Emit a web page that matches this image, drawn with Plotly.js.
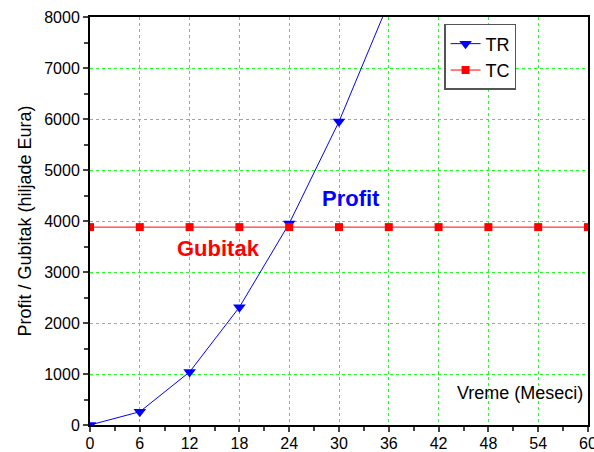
<!DOCTYPE html>
<html><head><meta charset="utf-8">
<script src="https://cdn.plot.ly/plotly-3.0.1.min.js"></script>
<style>body{margin:0;background:#fff}#chart{width:594px;height:452px}</style>
</head><body><div id="chart"></div>
<script>
const months = [0, 6, 12, 18, 24, 30, 36];
const trValues = [0, 260, 1040, 2310, 3950, 5950, 8290];
const tcMonths = [0, 6, 12, 18, 24, 30, 36, 42, 48, 54, 60];
const tcValues = [3880, 3880, 3880, 3880, 3880, 3880, 3880, 3880, 3880, 3880, 3880];
const xTicks = [0, 6, 12, 18, 24, 30, 36, 42, 48, 54, 60];
const yTicks = [0, 1000, 2000, 3000, 4000, 5000, 6000, 7000, 8000];

const font = 'Liberation Sans, Arial, sans-serif';
const traces = [
  {x: months, y: trValues, name: 'TR', mode: 'lines+markers', type: 'scatter',
   line: {color: '#0000ff', width: 1}, marker: {symbol: 'triangle-down', size: 11, color: '#0000ff'}},
  {x: tcMonths, y: tcValues, name: 'TC', mode: 'lines+markers', type: 'scatter',
   line: {color: '#ff0000', width: 1}, marker: {symbol: 'square', size: 8, color: '#ff0000'}}
];
const layout = {
  width: 594, height: 452,
  margin: {l: 90, r: 6, t: 17, b: 27},
  paper_bgcolor: '#fff', plot_bgcolor: '#fff',
  font: {family: font, color: '#000', size: 15},
  showlegend: true,
  legend: {x: 0.711, y: 0.983, xanchor: 'left', yanchor: 'top', bgcolor: '#fff',
    bordercolor: '#555', borderwidth: 1.5, font: {size: 18, family: font},
    tracegroupgap: 0},
  xaxis: {range: [0, 60], tickvals: xTicks, ticks: 'outside', ticklen: 5, tickwidth: 1.5,
    showline: true, linewidth: 2, linecolor: '#000', mirror: true, ticklabeloverflow: 'allow',
    ticklabelstandoff: -2,
    showgrid: true, gridcolor: '#22ff22', griddash: 'dot', gridwidth: 1, zeroline: false,
    minor: {dtick: 3, ticks: 'outside', ticklen: 4, tickwidth: 1.5, showgrid: false},
    tickfont: {size: 16}},
  yaxis: {range: [0, 8000], tickvals: yTicks, ticks: 'outside', ticklen: 5, tickwidth: 1.5,
    showline: true, linewidth: 2, linecolor: '#000', mirror: true,
    showgrid: true, gridcolor: '#22ff22', griddash: 'dot', gridwidth: 1, zeroline: false,
    minor: {dtick: 500, ticks: 'outside', ticklen: 4, tickwidth: 1.5, showgrid: false},
    tickfont: {size: 16},
    title: {text: 'Profit / Gubitak (hiljade Eura)', font: {size: 18}, standoff: 8}},
  annotations: [
    {x: 1, y: 0.078, xref: 'paper', yref: 'paper', xanchor: 'right', yanchor: 'middle',
     text: 'Vreme (Meseci)', showarrow: false, font: {size: 18, family: font}, xshift: -3},
    {x: 31.4, y: 4450, text: '<b>Profit</b>', showarrow: false, font: {size: 22, color: '#0000ff', family: font}},
    {x: 15.5, y: 3470, text: '<b>Gubitak</b>', showarrow: false, font: {size: 22, color: '#ff0000', family: font}}
  ]
};
Plotly.newPlot('chart', traces, layout, {displayModeBar: false});
</script></body></html>
